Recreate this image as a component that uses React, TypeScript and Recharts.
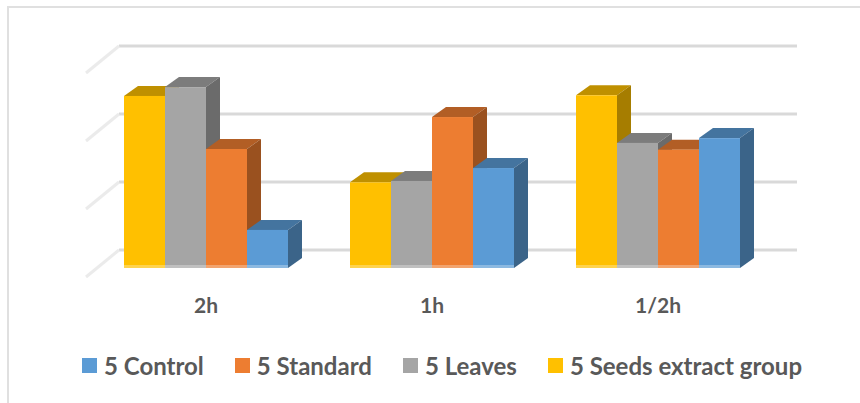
import { Bar, BarChart, CartesianGrid, Legend, XAxis, YAxis } from "recharts";

const categories = ["2h", "1h", "1/2h"];
const seeds = [2.53, 1.26, 2.54];
const leaves = [2.66, 1.28, 1.84];
const standard = [1.75, 2.22, 1.74];
const control = [0.56, 1.47, 1.91];
const yTicks = [0, 1, 2, 3];

const data = categories.map((name, i) => ({
  name,
  seeds: seeds[i],
  leaves: leaves[i],
  standard: standard[i],
  control: control[i],
}));

const legendItems = [
  { label: "5 Control", color: "#5B9BD5" },
  { label: "5 Standard", color: "#ED7D31" },
  { label: "5 Leaves", color: "#A5A5A5" },
  { label: "5 Seeds extract group", color: "#FFC000" },
];

const FONT = "Lato, sans-serif";

// extruded bar: front face plus a top and a side parallelogram
function Bar3D({ x, y, width, height, fill, topFill, sideFill }: any) {
  const dx = 14;
  const dy = 10;
  return (
    <g>
      <polygon
        points={`${x},${y} ${x + dx},${y - dy} ${x + width + dx},${y - dy} ${x + width},${y}`}
        fill={topFill}
      />
      <polygon
        points={`${x + width},${y} ${x + width + dx},${y - dy} ${x + width + dx},${y + height - dy} ${x + width},${y + height}`}
        fill={sideFill}
      />
      <rect x={x} y={y} width={width} height={height} fill={fill} />
      <rect x={x} y={y + height - 3} width={width} height={3} fill="#fff" fillOpacity={0.3} />
    </g>
  );
}

// back wall gridline and its slanted continuation on the side wall
function WallLine({ x1, x2, y1, index }: any) {
  const backY = y1 - 18;
  return (
    <g key={index}>
      <line x1={x1 + 26} x2={x2 + 26} y1={backY} y2={backY} stroke="#D9D9D9" strokeWidth={3} />
      <line x1={x1 + 26} x2={x1 - 7} y1={backY} y2={backY + 27} stroke="#EBEBEB" strokeWidth={3} />
    </g>
  );
}

function ChartLegend() {
  return (
    <div style={{ display: "flex", alignItems: "center", height: 30, paddingLeft: 82, fontFamily: FONT }}>
      {legendItems.map((item) => (
        <div key={item.label} style={{ display: "flex", alignItems: "center", marginRight: 31 }}>
          <span style={{ width: 15, height: 15, background: item.color, marginRight: 7 }} />
          <span style={{ fontSize: 24, fontWeight: 700, color: "#595959", whiteSpace: "nowrap" }}>{item.label}</span>
        </div>
      ))}
    </div>
  );
}

export default function App() {
  return (
    <div style={{ position: "absolute", left: 0, top: 0, width: 860, height: 403, background: "#fff", overflow: "hidden" }}>
      <div
        style={{
          position: "absolute",
          left: 7,
          top: 6,
          width: 853,
          height: 397,
          borderLeft: "2px solid #E0E0E0",
          borderTop: "2px solid #E0E0E0",
        }}
      />
      <BarChart
        width={860}
        height={403}
        data={data}
        margin={{ top: 64, right: 89, bottom: 23, left: 93 }}
        barGap={0}
        barCategoryGap={31}
        style={{ position: "absolute", left: 0, top: 0 }}
      >
        <CartesianGrid vertical={false} horizontal={(props: any) => <WallLine {...props} />} />
        <XAxis
          dataKey="name"
          height={82}
          axisLine={false}
          tickLine={false}
          tickMargin={24}
          tick={{ fontSize: 21, fontWeight: 700, fill: "#595959", fontFamily: FONT }}
        />
        <YAxis hide domain={[0, 3]} ticks={yTicks} />
        <Legend
          height={30}
          verticalAlign="bottom"
          wrapperStyle={{ left: 0, width: 860 }}
          content={() => <ChartLegend />}
        />
        <Bar dataKey="seeds" isAnimationActive={false} fill="#FFC000" shape={(p: any) => <Bar3D {...p} topFill="#BF9000" sideFill="#A67D00" />} />
        <Bar dataKey="leaves" isAnimationActive={false} fill="#A5A5A5" shape={(p: any) => <Bar3D {...p} topFill="#7C7C7C" sideFill="#6B6B6B" />} />
        <Bar dataKey="standard" isAnimationActive={false} fill="#ED7D31" shape={(p: any) => <Bar3D {...p} topFill="#B25E25" sideFill="#9A511F" />} />
        <Bar dataKey="control" isAnimationActive={false} fill="#5B9BD5" shape={(p: any) => <Bar3D {...p} topFill="#44749F" sideFill="#3B6489" />} />
      </BarChart>
    </div>
  );
}
